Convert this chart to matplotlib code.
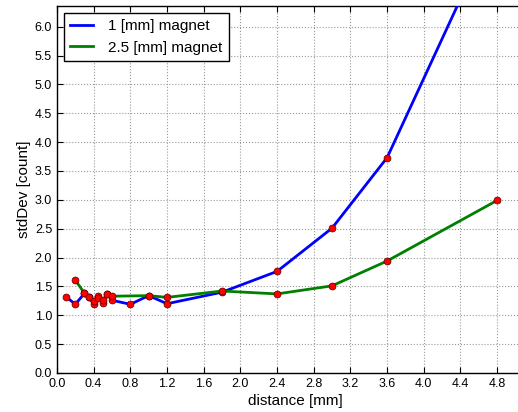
import matplotlib
matplotlib.use("Agg")
import matplotlib.pyplot as plt

plt.rcParams['font.family'] = ['Liberation Sans', 'DejaVu Sans']

x_1mm = [0.1, 0.2, 0.3, 0.35, 0.4, 0.45, 0.5, 0.55, 0.6, 0.8, 1.0, 1.2, 1.8, 2.4, 3.0, 3.6, 4.8]
y_1mm = [1.32, 1.19, 1.38, 1.31, 1.20, 1.33, 1.21, 1.37, 1.26, 1.19, 1.34, 1.20, 1.40, 1.76, 2.51, 3.73, 7.85]

x_25mm = [0.2, 0.3, 0.35, 0.4, 0.45, 0.5, 0.55, 0.6, 1.0, 1.2, 1.8, 2.4, 3.0, 3.6, 4.8]
y_25mm = [1.61, 1.38, 1.31, 1.25, 1.30, 1.27, 1.36, 1.33, 1.34, 1.31, 1.42, 1.37, 1.51, 1.94, 2.99]

labels = ["1 [mm] magnet", "2.5 [mm] magnet"]
xticks = [0.0, 0.4, 0.8, 1.2, 1.6, 2.0, 2.4, 2.8, 3.2, 3.6, 4.0, 4.4, 4.8]
yticks = [0.0, 0.5, 1.0, 1.5, 2.0, 2.5, 3.0, 3.5, 4.0, 4.5, 5.0, 5.5, 6.0]

fig = plt.figure(figsize=(5.18, 4.12), dpi=100)
ax = fig.add_axes([0.110, 0.0947, 0.9205, 0.891])

ax.plot(x_1mm, y_1mm, color='#0000ff', lw=2, label=labels[0], zorder=3)
ax.plot(x_25mm, y_25mm, color='#008000', lw=2, label=labels[1], zorder=3)
ax.plot(x_1mm, y_1mm, 'o', color='red', ms=5, mec='#550000', mew=0.5, zorder=4)
ax.plot(x_25mm, y_25mm, 'o', color='red', ms=5, mec='#550000', mew=0.5, zorder=4)

ax.set_xlim(0, 5.2)
ax.set_ylim(0, 6.36)
ax.set_xticks(xticks)
ax.set_yticks(yticks)
ax.set_xticklabels([f"{t:.1f}" for t in xticks])
ax.set_yticklabels([f"{t:.1f}" for t in yticks])
ax.tick_params(direction='in', top=True, right=True, labelsize=9, length=4, width=0.8)
ax.grid(True, color='#999999', linestyle=':', linewidth=0.8)
ax.set_xlabel("distance [mm]", fontsize=11, labelpad=3)
ax.set_ylabel("stdDev [count]", fontsize=11, labelpad=3)
for s in ax.spines.values():
    s.set_linewidth(1.0)

leg = ax.legend(loc='upper left', fontsize=11, fancybox=False, edgecolor='black',
                framealpha=1, handlelength=1.5, borderaxespad=0.45, handletextpad=1.0)
leg.get_frame().set_linewidth(1.0)

fig.savefig("out.png", dpi=100)
